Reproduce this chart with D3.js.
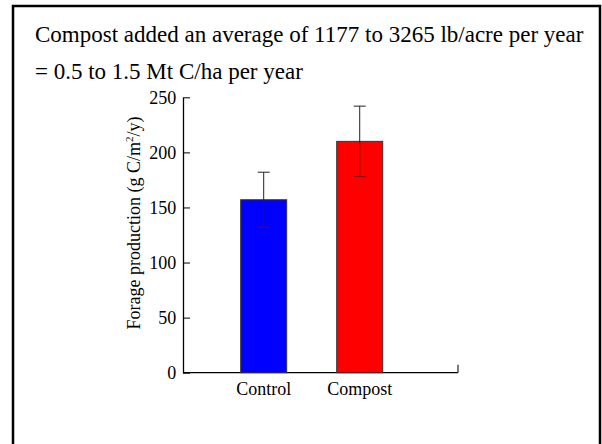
<!DOCTYPE html>
<html><head><meta charset="utf-8">
<script src="https://cdn.jsdelivr.net/npm/d3@7"></script>
<style>body{margin:0;background:#fff}svg{display:block}text{font-family:"Liberation Serif","Times New Roman",serif;fill:#000}</style>
</head><body>
<script>
const categories = ["Control", "Compost"];
const values = [157, 210];
const errors = [25, 32];
const colors = ["#0000ff", "#ff0000"];
const yTicks = [0, 50, 100, 150, 200, 250];
const titleLines = ["Compost added an average of 1177 to 3265 lb/acre per year", "= 0.5 to 1.5 Mt C/ha per year"];

const W = 602, H = 444;
const svg = d3.select("body").append("svg").attr("width", W).attr("height", H);

// frame
svg.append("rect").attr("x", 13).attr("y", 6).attr("width", 587).attr("height", 470)
  .attr("fill", "none").attr("stroke", "#000").attr("stroke-width", 2.5);

svg.selectAll("text.title").data(titleLines).enter().append("text")
  .attr("class", "title").attr("x", 35).attr("y", (d, i) => 42 + i * 37)
  .style("font-size", "23px").text(d => d);

const axL = 183, axR = 458;
const y = d3.scaleLinear().domain([0, 250]).range([372.7, 97.3]);
const x = d3.scaleBand().domain(categories).range([240.7, 382.7]).paddingInner(0.521).paddingOuter(0);

const yAxis = svg.append("g").attr("transform", `translate(${axL},0)`)
  .call(d3.axisLeft(y).tickValues(yTicks).tickSizeInner(-7).tickSizeOuter(0).tickPadding(5));
yAxis.attr("font-family", null).attr("font-size", null);
yAxis.select(".domain").attr("stroke", "#000").attr("stroke-width", 1.3);
yAxis.selectAll(".tick line").attr("stroke", "#000");
yAxis.selectAll(".tick text").style("font-size", "18px").attr("dx", "-0.1em");

// x axis line
svg.append("line").attr("x1", axL).attr("x2", axR).attr("y1", y(0)).attr("y2", y(0))
  .attr("stroke", "#000").attr("stroke-width", 1.3);
svg.append("line").attr("x1", axR).attr("x2", axR).attr("y1", y(0)).attr("y2", y(0) - 8)
  .attr("stroke", "#333").attr("stroke-width", 1.3);

const data = categories.map((c, i) => ({c, v: values[i], e: errors[i], col: colors[i]}));

svg.selectAll("rect.bar").data(data).enter().append("rect").attr("class", "bar")
  .attr("x", d => x(d.c)).attr("width", x.bandwidth())
  .attr("y", d => y(d.v)).attr("height", d => y(0) - y(d.v))
  .attr("fill", d => d.col).attr("stroke", "#333").attr("stroke-width", 1);

const eb = svg.selectAll("g.err").data(data).enter().append("g").attr("stroke", "#222").attr("stroke-width", 1);
eb.append("line").attr("x1", d => x(d.c) + x.bandwidth() / 2).attr("x2", d => x(d.c) + x.bandwidth() / 2)
  .attr("y1", d => y(d.v + d.e)).attr("y2", d => y(d.v - d.e));
eb.append("line").attr("x1", d => x(d.c) + x.bandwidth() / 2 - 6).attr("x2", d => x(d.c) + x.bandwidth() / 2 + 6)
  .attr("y1", d => y(d.v + d.e)).attr("y2", d => y(d.v + d.e));
eb.append("line").attr("x1", d => x(d.c) + x.bandwidth() / 2 - 6).attr("x2", d => x(d.c) + x.bandwidth() / 2 + 6)
  .attr("y1", d => y(d.v - d.e)).attr("y2", d => y(d.v - d.e)).attr("stroke", "#800");

svg.selectAll("text.cat").data(categories).enter().append("text").attr("class", "cat")
  .attr("x", d => x(d) + x.bandwidth() / 2).attr("y", 395).attr("text-anchor", "middle")
  .style("font-size", "18px").text(d => d);

const yt = svg.append("text").attr("transform", "translate(140,223) rotate(-90)")
  .attr("text-anchor", "middle").style("font-size", "18px");
yt.append("tspan").text("Forage production (g C/m");
yt.append("tspan").style("font-size", "11px").attr("dy", -7).text("2");
yt.append("tspan").attr("dy", 7).text("/y)");
</script>
</body></html>
